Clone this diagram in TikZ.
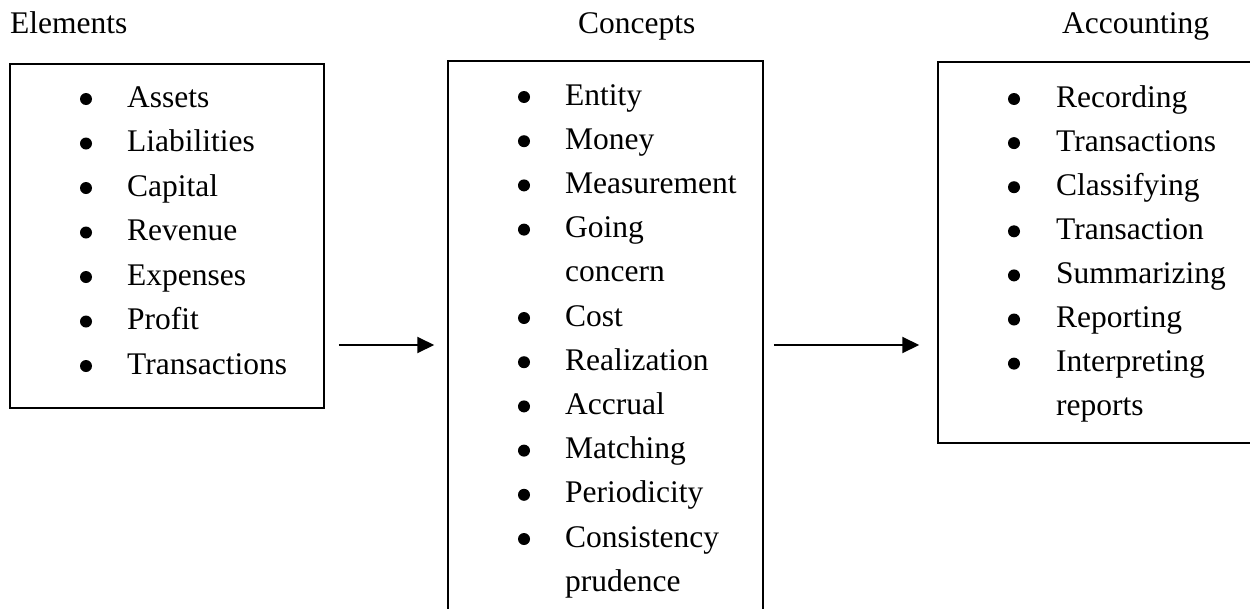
\documentclass[tikz,border=0pt]{standalone}
\usepackage{fontspec}
\setmainfont{Liberation Serif}
\usetikzlibrary{arrows.meta,positioning}

\begin{document}
\begin{tikzpicture}[x=1pt,y=-1pt,font=\fontsize{31.5}{44}\selectfont,
  box/.style={draw,line width=1.5pt,inner sep=0pt},
  word/.style={anchor=base west,inner sep=0pt},
  dot/.style={circle,fill,inner sep=0pt,minimum size=12pt},
  arr/.style={-{Triangle[length=17pt,width=16pt]},line width=2pt}]
\useasboundingbox (0,0) rectangle (1250,608);
\clip (0,0) rectangle (1250,608);

\node[word] (elemtitle) at (10,33) {Elements};
\node[word] (conctitle) at (578,33) {Concepts};
\node[word] (accttitle) at (1062,33) {Accounting};

\node[box,minimum width=314pt,minimum height=344pt] (elem) at (167,236) {};
\node[box,minimum width=315pt,minimum height=579pt] (conc) at (605.5,350.5) {};
\node[box,minimum width=322pt,minimum height=381pt] (acct) at (1099,252.5) {};

\foreach \t/\b [count=\i] in {Assets/1,Liabilities/1,Capital/1,Revenue/1,Expenses/1,Profit/1,Transactions/1} {
  \node[word] (e\i) at (127,{107+44.5*(\i-1)}) {\t};
  \ifnum\b=1 \node[dot] (eb\i) at (86,{99+44.5*(\i-1)}) {}; \fi
}
\foreach \t/\b [count=\i] in {Entity/1,Money/1,Measurement/1,Going/1,concern/0,Cost/1,Realization/1,Accrual/1,Matching/1,Periodicity/1,Consistency/1,prudence/0} {
  \node[word] (c\i) at (565,{105+44.2*(\i-1)}) {\t};
  \ifnum\b=1 \node[dot] (cb\i) at (524,{97+44.2*(\i-1)}) {}; \fi
}
\foreach \t/\b [count=\i] in {Recording/1,Transactions/1,Classifying/1,Transaction/1,Summarizing/1,Reporting/1,Interpreting/1,reports/0} {
  \node[word] (a\i) at (1056,{107+44.1*(\i-1)}) {\t};
  \ifnum\b=1 \node[dot] (ab\i) at (1014,{99+44.1*(\i-1)}) {}; \fi
}

\coordinate (lvl) at (0,345);
\draw[arr,shorten <=14pt,shorten >=13pt] (elem.east |- lvl) -- (conc.west |- lvl);
\draw[arr,shorten <=10pt,shorten >=18pt] (conc.east |- lvl) -- (acct.west |- lvl);
\end{tikzpicture}
\end{document}
